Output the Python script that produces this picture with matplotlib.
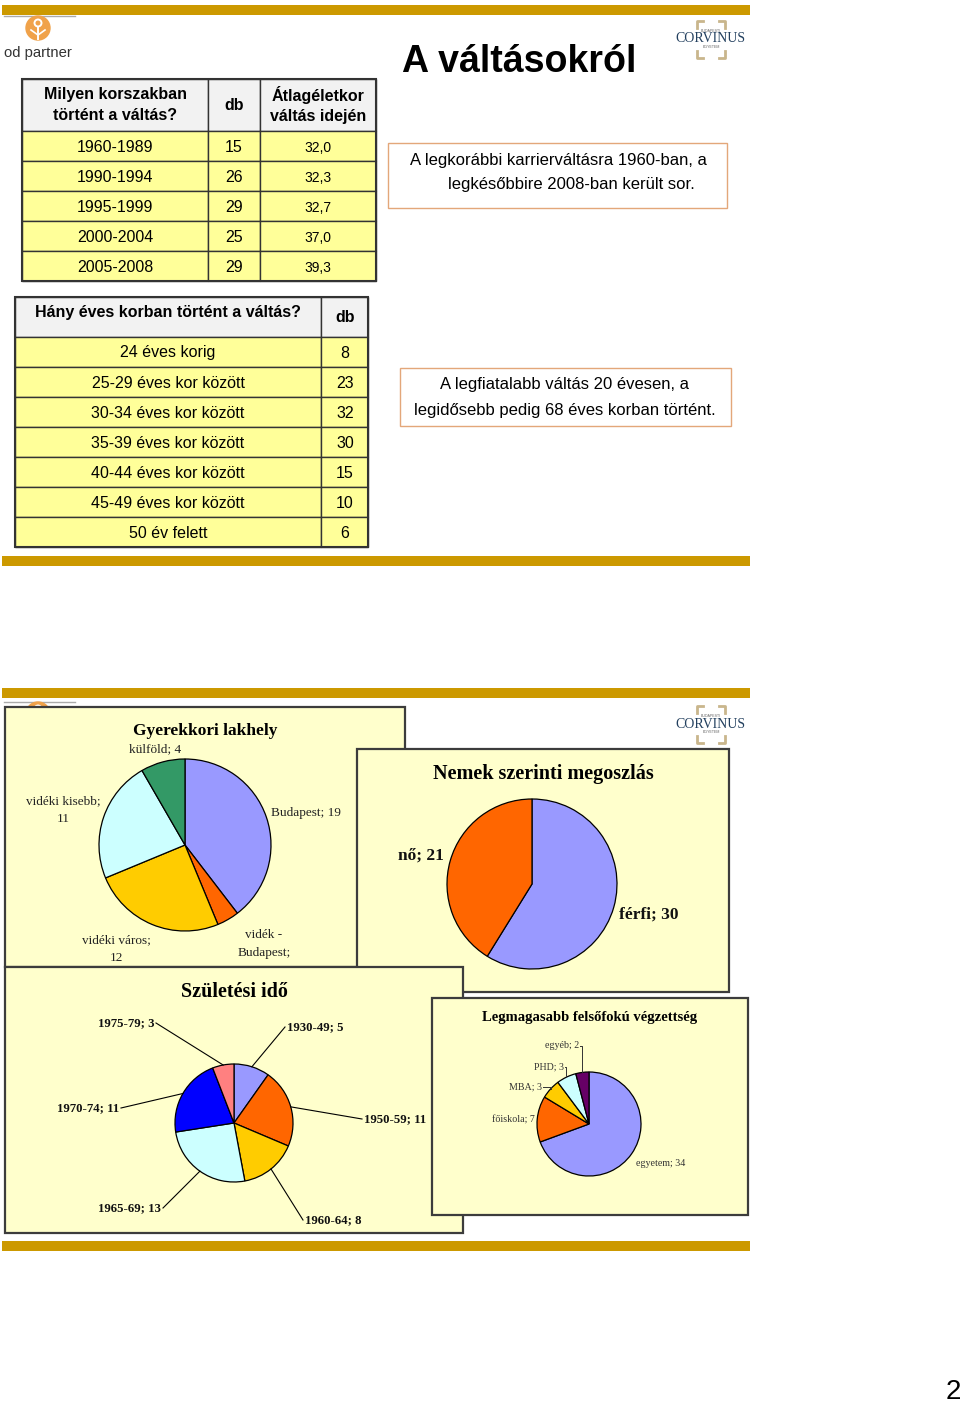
import matplotlib
matplotlib.use('Agg')
import matplotlib.pyplot as plt
from matplotlib.patches import Rectangle, Circle
import numpy as np

# --- data -------------------------------------------------------------
period_labels = ['1960-1989', '1990-1994', '1995-1999', '2000-2004', '2005-2008']
period_db = [15, 26, 29, 25, 29]
period_age = [32.0, 32.3, 32.7, 37.0, 39.3]

age_labels = ['24 éves korig', '25-29 éves kor között', '30-34 éves kor között',
              '35-39 éves kor között', '40-44 éves kor között',
              '45-49 éves kor között', '50 év felett']
age_db = [8, 23, 32, 30, 15, 10, 6]

home_labels = ['Budapest', 'vidék - Budapest', 'vidéki város', 'vidéki kisebb', 'külföld']
home_values = [19, 2, 12, 11, 4]
home_colors = ['#9999FF', '#FF6600', '#FFCC00', '#CCFFFF', '#339966']

sex_labels = ['férfi', 'nő']
sex_values = [30, 21]
sex_colors = ['#9999FF', '#FF6600']

birth_labels = ['1930-49', '1950-59', '1960-64', '1965-69', '1970-74', '1975-79']
birth_values = [5, 11, 8, 13, 11, 3]
birth_colors = ['#9999FF', '#FF6600', '#FFCC00', '#CCFFFF', '#0000FF', '#FF8080']

edu_labels = ['egyetem', 'főiskola', 'MBA', 'PHD', 'egyéb']
edu_values = [34, 7, 3, 3, 2]
edu_colors = ['#9999FF', '#FF6600', '#FFCC00', '#CCFFFF', '#660066']

# --- page setup (pixel coordinates, y down) ---------------------------
W, H = 960, 1404
GOLD = '#CC9900'
PANEL = '#FFFFCC'
EDGE = '#3C3C3C'
SANS = ['Liberation Sans', 'DejaVu Sans']
SERIF = ['Liberation Serif', 'DejaVu Serif']

fig = plt.figure(figsize=(W / 100, H / 100), dpi=100)
ax = fig.add_axes([0, 0, 1, 1])


def box(x0, y0, x1, y1, fc, ec=EDGE, lw=1.0, z=1):
    ax.add_patch(Rectangle((x0, y0), x1 - x0, y1 - y0, facecolor=fc,
                           edgecolor=ec, linewidth=lw, zorder=z))


def txt(x, y, s, size, family=SANS, weight='normal', ha='center', va='center',
        z=3, color='black', **kw):
    ax.text(x, y, s, fontsize=size, family=family, weight=weight, ha=ha,
            va=va, zorder=z, color=color, **kw)


def od_logo(dy):
    ax.plot([4, 75], [16 + dy, 16 + dy], color='#AAAAAA', lw=1, zorder=1)
    ax.add_patch(Circle((38, 28 + dy), 12, color='#F0A24A', zorder=1))
    ax.add_patch(Circle((38, 23 + dy), 3.5, facecolor='none', edgecolor='white', lw=1.4, zorder=1))
    ax.plot([38, 38], [27 + dy, 39 + dy], color='white', lw=1.4, zorder=1)
    ax.plot([31, 38, 45], [30 + dy, 35 + dy, 30 + dy], color='white', lw=1.2, zorder=1)
    txt(38, 53 + dy, 'od partner', 10.7, color='#333333', z=1)


def corvinus(dy):
    c = '#C9B68C'
    for x0, sx in ((697, 1), (725, -1)):
        ax.plot([x0, x0, x0 + 6 * sx], [28 + dy, 21 + dy, 21 + dy], color=c, lw=2, zorder=1)
        ax.plot([x0, x0, x0 + 6 * sx], [51 + dy, 58 + dy, 58 + dy], color=c, lw=2, zorder=1)
    txt(711, 31 + dy, 'BUDAPESTI', 2.6, color='#666666', z=1)
    txt(710, 39 + dy, 'CORVINUS', 10, family=SERIF, color='#23405F', z=1)
    txt(711, 47 + dy, 'EGYETEM', 2.6, color='#666666', z=1)


def pie_at(values, colors, cx, cy, r, z):
    ax.pie(values, colors=colors, center=(cx, cy), radius=r, startangle=-90,
           counterclock=True,
           wedgeprops=dict(edgecolor='black', linewidth=0.9, zorder=z))
    v = np.array(values, dtype=float)
    mids = np.deg2rad(-90 + 360 * (np.cumsum(v) - v / 2) / v.sum())
    return cx + r * np.cos(mids), cy + r * np.sin(mids)


# gold rules
for y0 in (5, 556, 688, 1241):
    box(2, y0, 750, y0 + 9.5, GOLD, ec='none', z=1)

od_logo(0)
od_logo(686)
corvinus(0)
corvinus(685)

# --- table 1 ----------------------------------------------------------
t1_x = [22, 208, 260, 376]
t1_y = [79, 131, 161, 191, 221, 251, 281]
for i in range(len(t1_y) - 1):
    for j in range(len(t1_x) - 1):
        box(t1_x[j], t1_y[i], t1_x[j + 1], t1_y[i + 1],
            '#F2F2F2' if i == 0 else '#FFFF99', ec='#333333', lw=1.0, z=2)
box(t1_x[0], t1_y[0], t1_x[-1], t1_y[-1], 'none', ec='#333333', lw=1.5, z=2)
txt(115, 105, 'Milyen korszakban\ntörtént a váltás?', 11.5, weight='bold', linespacing=1.5)
txt(234, 105, 'db', 11.5, weight='bold')
txt(318, 105, 'Átlagéletkor\nváltás idején', 11.5, weight='bold', linespacing=1.5)
for i, (lab, n, a) in enumerate(zip(period_labels, period_db, period_age)):
    yc = (t1_y[i + 1] + t1_y[i + 2]) / 2
    txt(115, yc + 1, lab, 11.5)
    txt(234, yc + 1, str(n), 11.5)
    txt(318, yc + 2, f'{a:.1f}'.replace('.', ','), 10)

# --- table 2 ----------------------------------------------------------
t2_x = [15, 321, 368]
t2_y = [297, 337, 367, 397, 427, 457, 487, 517, 547]
for i in range(len(t2_y) - 1):
    for j in range(len(t2_x) - 1):
        box(t2_x[j], t2_y[i], t2_x[j + 1], t2_y[i + 1],
            '#F2F2F2' if i == 0 else '#FFFF99', ec='#333333', lw=1.0, z=2)
box(t2_x[0], t2_y[0], t2_x[-1], t2_y[-1], 'none', ec='#333333', lw=1.5, z=2)
txt(168, 312, 'Hány éves korban történt a váltás?', 11.5, weight='bold')
txt(345, 318, 'db', 11.5, weight='bold')
for i, (lab, n) in enumerate(zip(age_labels, age_db)):
    yc = (t2_y[i + 1] + t2_y[i + 2]) / 2
    txt(168, yc + 1, lab, 11.5)
    txt(345, yc + 1, str(n), 11.5)

# --- title and text boxes --------------------------------------------
txt(402, 72, 'A váltásokról', 27, weight='bold', ha='left', va='baseline')
box(388, 143, 727, 208, 'white', ec='#E3A77A', lw=1.0, z=2)
txt(558, 160, 'A legkorábbi karrierváltásra 1960-ban, a', 12)
txt(571, 185, 'legkésőbbire 2008-ban került sor.', 12)
box(400, 368, 731, 426, 'white', ec='#E3A77A', lw=1.0, z=2)
txt(565, 385, 'A legfiatalabb váltás 20 évesen, a', 12)
txt(565, 410, 'legidősebb pedig 68 éves korban történt.', 12)

# --- panel A: Gyerekkori lakhely -------------------------------------
box(5, 707, 405, 967, PANEL, lw=1.6, z=2)
txt(205, 731, 'Gyerekkori lakhely', 12.5, family=SERIF, weight='bold', z=3)
pie_at(home_values, home_colors, 185, 845, 86, 3)
home_pos = [(271, 813, 'left'), (264, 953, 'center'), (116, 949, 'center'),
            (63, 810, 'center'), (155, 749, 'center')]
for lab, v, (x, y, ha) in zip(home_labels, home_values, home_pos):
    s = f'{lab}; {v}'
    if ha == 'center' and lab != 'külföld':
        s = s.replace('; ', ';\n').replace('- ', '-\n')
    txt(x, y, s, 9.5, family=SERIF, ha=ha, z=3, color='#222222', linespacing=1.65)

# --- panel B: Nemek szerinti megoszlás -------------------------------
box(357, 749, 729, 992, PANEL, lw=1.6, z=4)
txt(543, 774, 'Nemek szerinti megoszlás', 14.5, family=SERIF, weight='bold', z=5)
pie_at(sex_values, sex_colors, 532, 884, 85, 5)
sex_pos = [(649, 915), (421, 856)]
for lab, v, (x, y) in zip(sex_labels, sex_values, sex_pos):
    txt(x, y, f'{lab}; {v}', 12.5, family=SERIF, weight='bold', z=5, color='#111111')

# --- panel C: Születési idő ------------------------------------------
box(5, 967, 463, 1233, PANEL, lw=1.6, z=6)
txt(234, 992, 'Születési idő', 14.5, family=SERIF, weight='bold', z=7)
bx, by = pie_at(birth_values, birth_colors, 234, 1123, 59, 7)
birth_pos = [(287, 1027, 'left'), (364, 1119, 'left'), (305, 1220, 'left'),
             (161, 1208, 'right'), (119, 1108, 'right'), (154, 1023, 'right')]
for lab, v, (x, y, ha), ex, ey in zip(birth_labels, birth_values, birth_pos, bx, by):
    txt(x, y, f'{lab}; {v}', 9.2, family=SERIF, weight='bold', ha=ha, z=7, color='#111111')
    x0 = x - 2 if ha == 'left' else x + 2
    ax.plot([x0, ex], [y, ey], color='black', lw=0.8, zorder=7)

# --- panel D: Legmagasabb felsőfokú végzettség -----------------------
box(432, 998, 748, 1215, PANEL, lw=1.6, z=8)
txt(590, 1017, 'Legmagasabb felsőfokú végzettség', 10.5, family=SERIF, weight='bold', z=9)
dx, dy_ = pie_at(edu_values, edu_colors, 589, 1124, 52, 9)
edu_pos = [(636, 1163, 'left', False), (535, 1120, 'right', False),
           (542, 1087, 'right', True), (564, 1067, 'right', True),
           (579, 1046, 'right', True)]
for lab, v, (x, y, ha, hook), ex, ey in zip(edu_labels, edu_values, edu_pos, dx, dy_):
    txt(x, y, f'{lab}; {v}', 7.2, family=SERIF, ha=ha, z=9, color='#333333')
    if hook:
        ax.plot([x + 1, ex, ex], [y, y, ey], color='#333333', lw=0.7, zorder=9)

txt(953, 1392, '2', 20)

ax.set_xlim(0, W)
ax.set_ylim(H, 0)
ax.set_aspect('auto')
ax.axis('off')
fig.savefig('out.png', dpi=100, facecolor='white')
